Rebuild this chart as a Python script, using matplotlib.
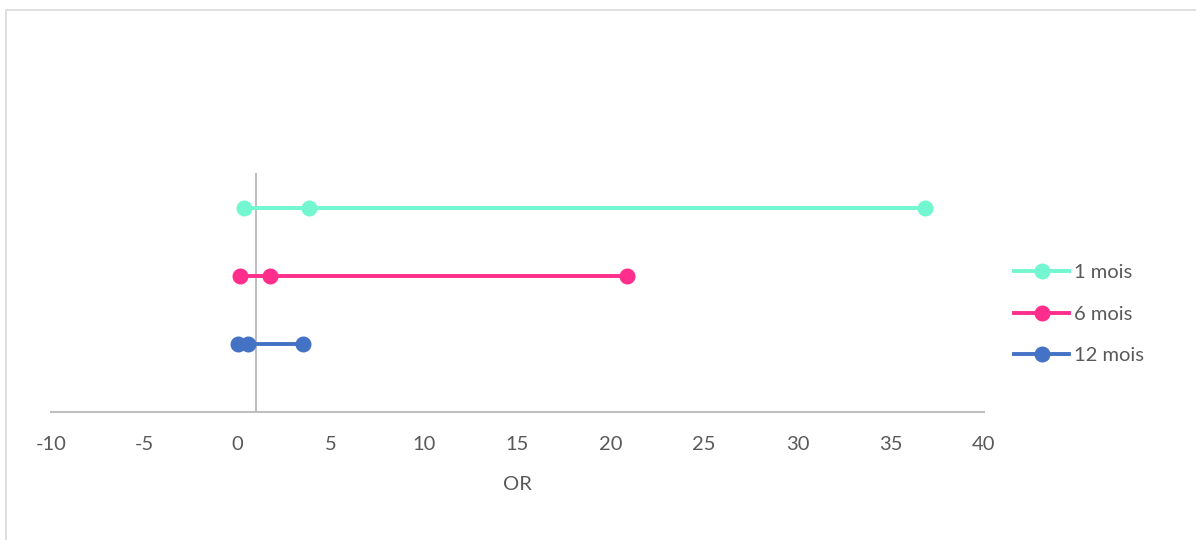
import matplotlib.pyplot as plt
from matplotlib.patches import Rectangle

plt.rcParams['font.family'] = ['Lato', 'DejaVu Sans']

series = ['1 mois', '6 mois', '12 mois']
or_values = [
    [0.34, 3.83, 36.84],
    [0.13, 1.74, 20.87],
    [0.02, 0.56, 3.5],
]
rows = [3, 2, 1]
colors = ['#72F7D1', '#FF2E8D', '#4472C4']
ref_x = [1, 1]
ref_y = [0, 3.5]
xticks = list(range(-10, 45, 5))

W, H = 1196, 540
fig = plt.figure(figsize=(W / 100, H / 100), dpi=100)
# chart border like the spreadsheet frame
fig.patches.append(Rectangle((6 / W, -0.1), 1.2, (H - 9.5) / H + 0.1, transform=fig.transFigure,
                             fill=False, edgecolor='#D9D9D9', linewidth=1.2))

left, right, bottom, top = 51, 984, 412, 72
ax = fig.add_axes([left / W, (H - bottom) / H, (right - left) / W, (bottom - top) / H])

ax.plot(ref_x, ref_y, color='#BFBFBF', linewidth=1.5, zorder=1)
for name, vals, r, c in zip(series, or_values, rows, colors):
    ax.plot(vals, [r] * len(vals), color=c, marker='o', markersize=10.5,
            linewidth=2.8, label=name, zorder=3)

ax.set_xlim(-10, 40)
ax.set_ylim(0, 5)
ax.set_xticks(xticks)
ax.set_xticklabels([str(t) for t in xticks])
ax.set_yticks([])
for s in ['top', 'right', 'left']:
    ax.spines[s].set_visible(False)
ax.spines['bottom'].set_color('#BFBFBF')
ax.spines['bottom'].set_linewidth(1.5)
ax.tick_params(axis='x', length=0, pad=17, labelsize=14.5, labelcolor='#595959')
ax.set_xlabel('OR', fontsize=14.5, color='#595959', labelpad=17)

ax.legend(loc='center left', bbox_to_anchor=(1014 / W, (H - 314) / H),
          bbox_transform=fig.transFigure, frameon=False, fontsize=14.5,
          labelcolor='#595959', handlelength=2.75, handletextpad=0.25,
          labelspacing=1.2, borderaxespad=0, borderpad=0)

fig.savefig('out.png', dpi=100)
